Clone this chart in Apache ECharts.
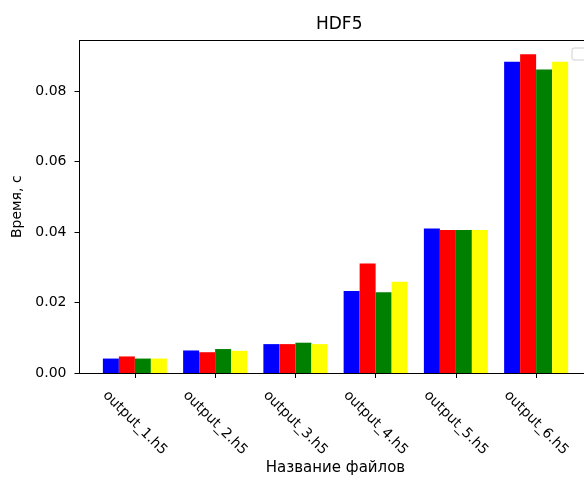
<!DOCTYPE html>
<html lang="ru">
<head>
    <meta charset="UTF-8">
    <script src="https://cdn.jsdelivr.net/npm/echarts@6/dist/echarts.min.js"></script>
    <style>
        html, body { margin: 0; padding: 0; background: #fff; }
        #chart { width: 584px; height: 478px; }
    </style>
</head>
<body>
<div id="chart"></div>
<script>
    // данные с картинки
    var categories = ['output_1.h5', 'output_2.h5', 'output_3.h5', 'output_4.h5', 'output_5.h5', 'output_6.h5'];
    var blueVals = [0.0041, 0.0064, 0.0082, 0.0233, 0.0410, 0.0884];
    var redVals = [0.0047, 0.0059, 0.0082, 0.0311, 0.0406, 0.0905];
    var greenVals = [0.0041, 0.0068, 0.0086, 0.0229, 0.0406, 0.0862];
    var yellowVals = [0.0041, 0.0063, 0.0082, 0.0259, 0.0406, 0.0884];
    var yTicks = [0, 0.02, 0.04, 0.06, 0.08];
    var catIdx = [0, 1, 2, 3, 4, 5];

    var font = 'DejaVu Sans';

    function toPairs(vals) {
        return vals.map(function (v, i) { return [i, v]; });
    }

    function barSeries(vals, color) {
        return {
            type: 'bar',
            data: toPairs(vals),
            barWidth: 16,
            barGap: '0%',
            itemStyle: { color: color }
        };
    }

    var chart = echarts.init(document.getElementById('chart'));

    var option = {
        animation: false,
        title: {
            text: 'HDF5',
            left: 311,
            top: 11,
            textStyle: { fontFamily: font, fontSize: 17, fontWeight: 'normal', color: '#000' }
        },
        grid: { left: 79.5, top: 40.5, width: 512, height: 332.5, outerBoundsMode: 'none', containLabel: false },
        xAxis: [{
            type: 'value',
            min: -0.69,
            max: 5.69,
            position: 'bottom',
            name: 'Название файлов',
            nameLocation: 'middle',
            nameGap: 88,
            nameMoveOverlap: false,
            nameTextStyle: { fontFamily: font, fontSize: 15, color: '#000' },
            splitLine: { show: false },
            axisLine: { show: true, onZero: false, lineStyle: { color: '#000', width: 1 } },
            axisTick: { show: true, length: 5, customValues: catIdx, lineStyle: { color: '#000' } },
            axisLabel: {
                customValues: catIdx,
                rotate: -45,
                align: 'center',
                verticalAlign: 'middle',
                margin: 50,
                fontFamily: font,
                fontSize: 14,
                color: '#000',
                formatter: function (v) { return categories[Math.round(v)]; }
            }
        }, {
            type: 'value',
            min: -0.69,
            max: 5.69,
            position: 'top',
            splitLine: { show: false },
            axisLine: { show: true, onZero: false, lineStyle: { color: '#000', width: 1 } },
            axisTick: { show: false },
            axisLabel: { show: false }
        }],
        yAxis: {
            type: 'value',
            min: 0,
            max: 0.0944,
            name: 'Время, с',
            nameLocation: 'middle',
            nameGap: 55,
            nameMoveOverlap: false,
            nameTextStyle: { fontFamily: font, fontSize: 14, color: '#000' },
            splitLine: { show: false },
            axisLine: { show: true, onZero: false, lineStyle: { color: '#000', width: 1 } },
            axisTick: { show: true, length: 5, customValues: yTicks, lineStyle: { color: '#000' } },
            axisLabel: {
                customValues: yTicks,
                margin: 13,
                fontFamily: font,
                fontSize: 14,
                color: '#000',
                formatter: function (v) { return v.toFixed(2); }
            }
        },
        graphic: [{
            // пустая легенда в правом верхнем углу
            type: 'rect',
            shape: { x: 572, y: 48, width: 24, height: 12, r: 2 },
            style: { fill: '#fff', stroke: '#d0d0d0', lineWidth: 1 }
        }],
        series: [
            barSeries(blueVals, '#0000ff'),
            barSeries(redVals, '#ff0000'),
            barSeries(greenVals, '#008000'),
            barSeries(yellowVals, '#ffff00')
        ]
    };

    chart.setOption(option);
</script>
</body>
</html>
